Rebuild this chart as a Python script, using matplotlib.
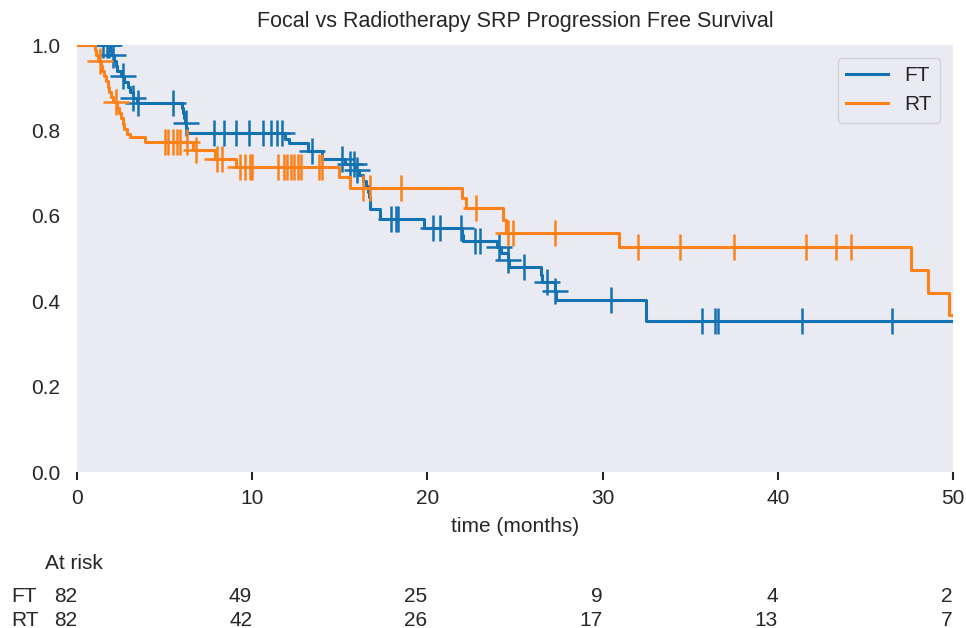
import numpy as np
import matplotlib
matplotlib.use('Agg')
import matplotlib.pyplot as plt
from matplotlib.transforms import blended_transform_factory

plt.rcParams['font.family'] = ['Liberation Sans', 'DejaVu Sans']
plt.rcParams['text.color'] = '#262626'
plt.rcParams['xtick.color'] = '#262626'
plt.rcParams['ytick.color'] = '#262626'
plt.rcParams['axes.labelcolor'] = '#262626'

# Kaplan-Meier step data: (time of drop, survival after it)
ft_times = [1.9, 2.0, 2.1, 2.2, 2.3, 2.5, 2.7, 2.9, 3.0, 3.2, 3.4,
            6.0, 6.05, 6.1, 6.15, 6.25, 6.3, 11.9, 12.1, 13.2, 14.0,
            15.3, 15.9, 16.1, 16.3, 16.5, 16.6, 16.65, 16.7, 16.75, 17.3,
            19.8, 22.0, 22.05, 24.0, 24.2, 24.6, 24.65, 26.5, 26.55,
            27.3, 27.35, 32.5]
ft_surv = [0.988, 0.976, 0.963, 0.951, 0.939, 0.927, 0.914, 0.902, 0.889, 0.877, 0.864,
           0.852, 0.840, 0.828, 0.817, 0.805, 0.794, 0.781, 0.770, 0.752, 0.733,
           0.721, 0.708, 0.695, 0.682, 0.669, 0.656, 0.643, 0.630, 0.617, 0.592,
           0.571, 0.555, 0.540, 0.527, 0.513, 0.497, 0.480, 0.462, 0.445,
           0.424, 0.403, 0.354]
ft_censor = [1.5, 1.7, 1.85, 2.05, 2.6, 3.2, 3.5, 5.5, 6.2, 7.8, 8.4, 9.1, 9.8,
             10.6, 11.1, 11.4, 11.7, 13.4, 15.1, 15.6, 15.8, 16.0, 17.9, 18.2,
             18.3, 20.3, 20.7, 21.9, 22.7, 23.0, 24.1, 24.6, 25.5, 26.8, 27.3,
             30.5, 35.7, 36.4, 36.6, 41.4, 46.5]

rt_times = [1.0, 1.1, 1.2, 1.35, 1.45, 1.55, 1.65, 1.75, 1.85, 1.95, 2.05,
            2.3, 2.4, 2.5, 2.6, 2.7, 2.85, 3.0, 3.9, 6.6, 7.9, 9.1,
            14.95, 15.6, 22.0, 22.2, 24.3, 24.5, 30.95, 47.6, 48.6, 49.8]
rt_surv = [0.988, 0.976, 0.963, 0.951, 0.939, 0.927, 0.915, 0.902, 0.890, 0.878, 0.866,
           0.853, 0.841, 0.829, 0.816, 0.804, 0.792, 0.785, 0.773, 0.754, 0.733, 0.714,
           0.690, 0.666, 0.642, 0.618, 0.590, 0.560, 0.527, 0.473, 0.420, 0.368]
rt_censor = [1.3, 2.2, 5.0, 5.2, 5.5, 5.7, 5.9, 6.3, 6.8, 8.0, 8.3, 9.3, 9.6,
             9.9, 10.0, 11.5, 11.8, 12.0, 12.2, 12.4, 12.6, 12.8, 13.8, 14.0,
             16.3, 16.7, 18.5, 22.8, 24.6, 24.9, 27.3, 32.0, 34.4, 37.5, 41.6,
             43.3, 44.2]

at_risk_times = [0, 10, 20, 30, 40, 50]
ft_at_risk = [82, 49, 25, 9, 4, 2]
rt_at_risk = [82, 42, 26, 17, 13, 7]

BLUE = '#1272b3'
ORANGE = '#fd8119'
FS = 15


def surv_at(t, times, surv):
    idx = np.searchsorted(times, t, side='right') - 1
    s = np.concatenate([[1.0], surv])
    return s[idx + 1]


def plot_km(ax, times, surv, censor, color, label, t_end=55):
    t = np.concatenate([[0.0], times, [t_end]])
    s = np.concatenate([[1.0], surv, [surv[-1]]])
    ax.step(t, s, where='post', color=color, lw=2.2, label=label)
    cy = surv_at(np.array(censor), np.array(times), np.array(surv))
    ax.plot(censor, cy, ls='none', marker='+', ms=19, mew=1.8, color=color)


fig = plt.figure(figsize=(9.66, 6.28), dpi=100)
ax = fig.add_axes([0.0797, 0.2484, 0.9068, 0.6799])
ax.set_facecolor('#eaeaf2')
for sp in ax.spines.values():
    sp.set_visible(False)

plot_km(ax, ft_times, ft_surv, ft_censor, BLUE, 'FT')
plot_km(ax, rt_times, rt_surv, rt_censor, ORANGE, 'RT')

ax.set_xlim(0, 50)
ax.set_ylim(0, 1.0)
ax.set_xticks(at_risk_times)
ax.set_yticks([0, 0.2, 0.4, 0.6, 0.8, 1.0])
ax.tick_params(axis='x', length=6, width=1.5, color='#262626', labelsize=FS, pad=6)
ax.tick_params(axis='y', length=0, labelsize=FS, pad=12)
ax.set_xlabel('time (months)', fontsize=FS, labelpad=7)
ax.set_title('Focal vs Radiotherapy SRP Progression Free Survival', fontsize=15.5, pad=13)

leg = ax.legend(loc='upper right', fontsize=FS, frameon=True, fancybox=True,
                facecolor='#eaeaf2', edgecolor='#cccccc', handlelength=2.0,
                borderaxespad=0.6)

# at-risk table under the axis
tr = blended_transform_factory(ax.transData, fig.transFigure)
fig.text(0.0466, 0.1035, 'At risk', fontsize=FS, va='center')
fig.text(0.012, 0.0494, 'FT', fontsize=FS, va='center')
fig.text(0.012, 0.0127, 'RT', fontsize=FS, va='center')
for x, a, b in zip(at_risk_times, ft_at_risk, rt_at_risk):
    ax.text(x, 0.0494, str(a), transform=tr, fontsize=FS, ha='right', va='center')
    ax.text(x, 0.0127, str(b), transform=tr, fontsize=FS, ha='right', va='center')

fig.savefig('out.png', dpi=100)
